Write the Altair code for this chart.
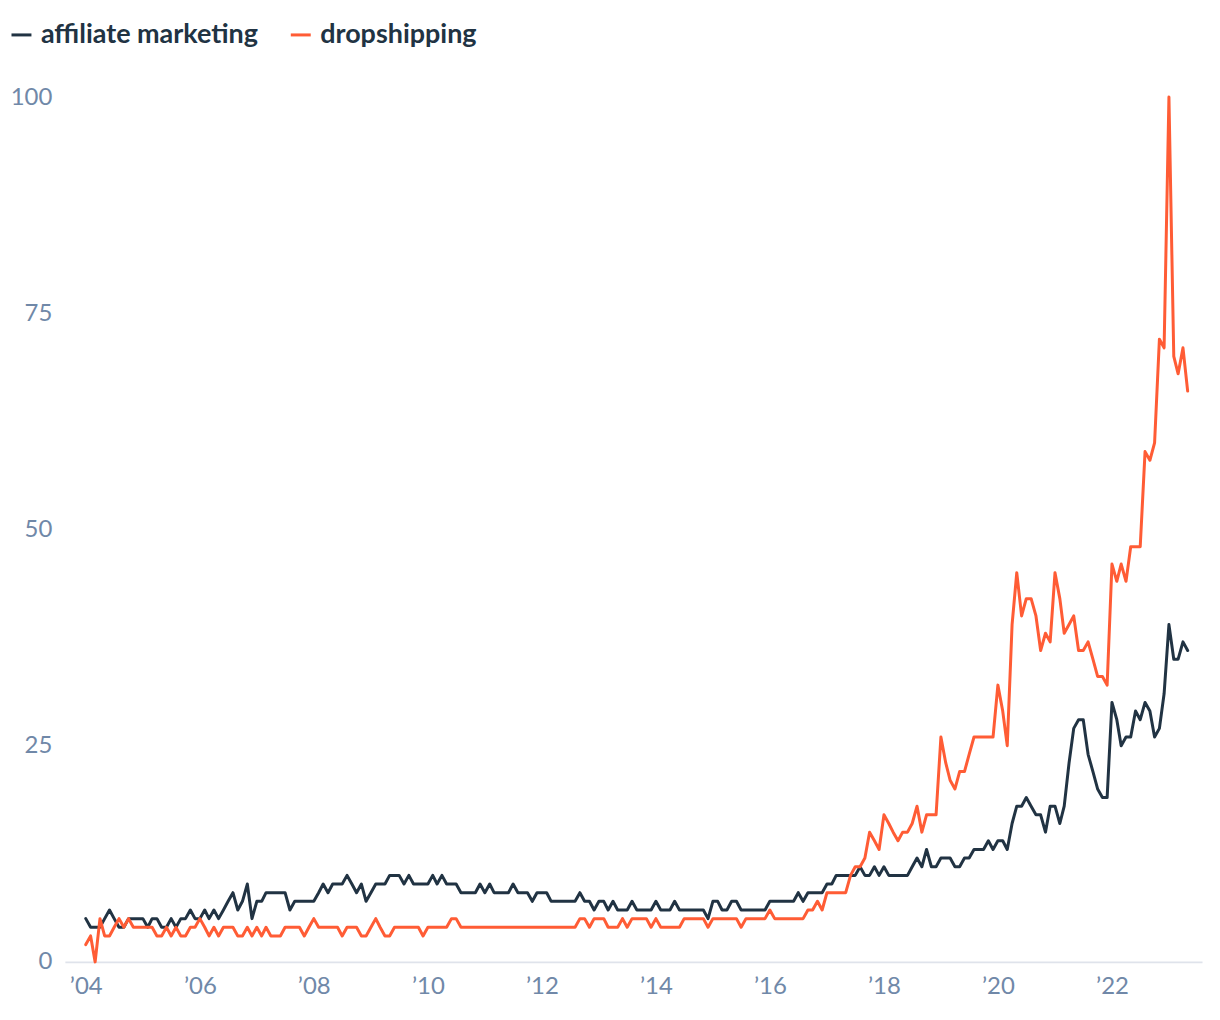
import altair as alt
import pandas as pd

series_names = ["affiliate marketing", "dropshipping"]
colors = ["#213343", "#ff5c35"]

affiliate = [
    5,4,4,4,5,6,5,4,4,5,
    5,5,5,4,5,5,4,4,5,4,
    5,5,6,5,5,6,5,6,5,6,
    7,8,6,7,9,5,7,7,8,8,
    8,8,8,6,7,7,7,7,7,8,
    9,8,9,9,9,10,9,8,9,7,
    8,9,9,9,10,10,10,9,10,9,
    9,9,9,10,9,10,9,9,9,8,
    8,8,8,9,8,9,8,8,8,8,
    9,8,8,8,7,8,8,8,7,7,
    7,7,7,7,8,7,7,6,7,7,
    6,7,6,6,6,7,6,6,6,6,
    7,6,6,6,7,6,6,6,6,6,
    6,5,7,7,6,6,7,7,6,6,
    6,6,6,6,7,7,7,7,7,7,
    8,7,8,8,8,8,9,9,10,10,
    10,10,10,11,10,10,11,10,11,10,
    10,10,10,10,11,12,11,13,11,11,
    12,12,12,11,11,12,12,13,13,13,
    14,13,14,14,13,16,18,18,19,18,
    17,17,15,18,18,16,18,23,27,28,
    28,24,22,20,19,19,30,28,25,26,
    26,29,28,30,29,26,27,31,39,35,
    35,37,36,
]

dropshipping = [
    2,3,0,5,3,3,4,5,4,5,
    4,4,4,4,4,3,3,4,3,4,
    3,3,4,4,5,4,3,4,3,4,
    4,4,3,3,4,3,4,3,4,3,
    3,3,4,4,4,4,3,4,5,4,
    4,4,4,4,3,4,4,4,3,3,
    4,5,4,3,3,4,4,4,4,4,
    4,3,4,4,4,4,4,5,5,4,
    4,4,4,4,4,4,4,4,4,4,
    4,4,4,4,4,4,4,4,4,4,
    4,4,4,4,5,5,4,5,5,5,
    4,4,4,5,4,5,5,5,5,4,
    5,4,4,4,4,4,5,5,5,5,
    5,4,5,5,5,5,5,5,4,5,
    5,5,5,5,6,5,5,5,5,5,
    5,5,6,6,7,6,8,8,8,8,
    8,10,11,11,12,15,14,13,17,16,
    15,14,15,15,16,18,15,17,17,17,
    26,23,21,20,22,22,24,26,26,26,
    26,26,32,29,25,39,45,40,42,42,
    40,36,38,37,45,42,38,39,40,36,
    36,37,35,33,33,32,46,44,46,44,
    48,48,48,59,58,60,72,71,100,70,
    68,71,66,
]

y_ticks = [0, 25, 50, 75, 100]
x_tick_years = list(range(2004, 2024, 2))

n = min(len(affiliate), len(dropshipping))
dates = pd.date_range("2004-01-01", periods=n, freq="MS")
rows = []
for name, vals in zip(series_names, [affiliate, dropshipping]):
    for d, v in zip(dates, vals[:n]):
        rows.append({"date": d, "series": name, "value": v})
df = pd.DataFrame(rows)

label_color = "#7088a8"

chart = alt.Chart(df).mark_line(strokeWidth=3, strokeJoin="round", strokeCap="round").encode(
    x=alt.X(
        "date:T",
        title=None,
        scale=alt.Scale(domain=[alt.DateTime(year=2003, month=8, date=20),
                                alt.DateTime(year=2023, month=8, date=1)]),
        axis=alt.Axis(
            values=[alt.DateTime(year=y, month=1, date=1) for y in x_tick_years],
            format="\u2019%y",
            ticks=False,
            grid=False,
            domainColor="#dfe3eb",
            domainWidth=2,
            labelFont="Lato",
            labelFontSize=24,
            labelColor=label_color,
            labelPadding=13,
        ),
    ),
    y=alt.Y(
        "value:Q",
        title=None,
        scale=alt.Scale(domain=[0, 100], nice=False),
        axis=alt.Axis(
            values=y_ticks,
            ticks=False,
            grid=False,
            domain=False,
            labelFont="Lato",
            labelFontSize=24,
            labelColor=label_color,
            labelPadding=13,
        ),
    ),
    color=alt.Color(
        "series:N",
        scale=alt.Scale(domain=series_names, range=colors),
        legend=alt.Legend(
            title=None,
            orient="none",
            legendX=-57,
            legendY=-76,
            direction="horizontal",
            symbolType="stroke",
            symbolStrokeWidth=3,
            symbolSize=400,
            labelFont="Lato",
            labelFontSize=27,
            labelFontWeight="bold",
            labelColor="#213343",
            labelOffset=6,
            labelLimit=600,
            columnPadding=26,
        ),
    ),
).properties(
    width=1140,
    height=867,
    padding={"left": 57, "top": 88, "right": 10, "bottom": 50},
    autosize=alt.AutoSizeParams(type="none"),
).configure_view(stroke=None)

chart.save("out.html", embed_options={"renderer": "svg", "actions": False})
